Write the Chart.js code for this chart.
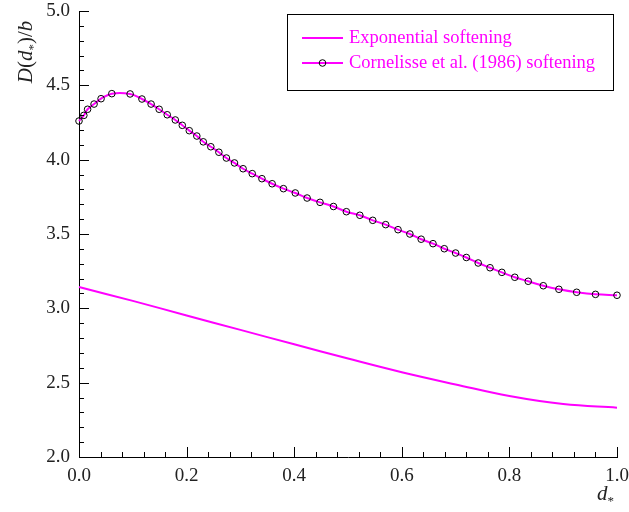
<!DOCTYPE html>
<html>
<head>
<meta charset="utf-8">
<script src="https://cdn.jsdelivr.net/npm/chart.js@4"></script>
<style>
  body { margin: 0; background: #fff; }
</style>
</head>
<body>
<canvas id="dChart" width="629" height="512"></canvas>
<script>
// Cornelisse et al. (1986) softening, marker positions
const xCorn = [0.000, 0.009, 0.016, 0.028, 0.041, 0.061, 0.095, 0.117, 0.134, 0.149,
               0.164, 0.179, 0.192, 0.205, 0.219, 0.231, 0.245, 0.260, 0.274, 0.289,
               0.305, 0.322, 0.340, 0.359, 0.380, 0.402, 0.424, 0.448, 0.473, 0.497,
               0.522, 0.546, 0.570, 0.593, 0.615, 0.636, 0.658, 0.679, 0.700, 0.720,
               0.742, 0.764, 0.786, 0.810, 0.835, 0.863, 0.892, 0.925, 0.960, 1.000]
const yCorn = [4.260, 4.298, 4.339, 4.374, 4.410, 4.444, 4.442, 4.408, 4.374, 4.339,
               4.302, 4.267, 4.231, 4.195, 4.159, 4.120, 4.087, 4.050, 4.011, 3.978,
               3.939, 3.906, 3.872, 3.838, 3.805, 3.776, 3.742, 3.713, 3.685, 3.650,
               3.626, 3.592, 3.563, 3.529, 3.500, 3.465, 3.435, 3.401, 3.372, 3.342,
               3.305, 3.273, 3.242, 3.209, 3.182, 3.152, 3.128, 3.108, 3.094, 3.088]

// Exponential softening
const xExp = [0.0, 0.1, 0.2, 0.3, 0.4, 0.5, 0.6, 0.7, 0.8, 0.9, 1.0]
const yExp = [3.143, 3.05, 2.952, 2.855, 2.758, 2.662, 2.57, 2.488, 2.41, 2.356, 2.332]

const seriesNames = ['Exponential softening', 'Cornelisse et al. (1986) softening']
const xTicks = [0.0, 0.2, 0.4, 0.6, 0.8, 1.0]
const yTicks = [2.0, 2.5, 3.0, 3.5, 4.0, 4.5, 5.0]

const MAGENTA = '#ff00ff'
const SERIF = '"Liberation Serif", "DejaVu Serif", serif'

function toPoints(xs, ys) {
  return xs.map((x, i) => ({ x: x, y: ys[i] }))
}

// drop the extra room chart.js keeps for the end labels
function noPad(s) {
  s.paddingTop = 0
  s.paddingBottom = 0
  s.paddingLeft = 0
  s.paddingRight = 0
}

// minor/major ticks drawn inward, like the original
const tickMarks = {
  id: 'tickMarks',
  afterDatasetsDraw(chart) {
    const c = chart.ctx
    const xs = chart.scales.x, ys = chart.scales.y
    const left = chart.chartArea.left, bottom = chart.chartArea.bottom
    c.save()
    c.strokeStyle = '#000'
    c.lineWidth = 1
    c.beginPath()
    for (let i = 0; i <= 30; i++) {
      const v = 2 + i * 0.1
      const py = Math.round(ys.getPixelForValue(v)) + 0.5
      const len = (i % 5 === 0) ? 10 : 5
      c.moveTo(left, py)
      c.lineTo(left + len, py)
    }
    for (let i = 0; i <= 25; i++) {
      const v = i * 0.04
      const px = Math.round(xs.getPixelForValue(v)) + 0.5
      const len = (i % 5 === 0) ? 10 : 5
      c.moveTo(px, bottom)
      c.lineTo(px, bottom - len)
    }
    c.stroke()
    c.restore()
  }
}

// axis titles with the subscript star
function drawPieces(c, pieces, x, y) {
  let cx = x
  pieces.forEach(p => {
    c.font = p.font
    c.fillText(p.t, cx, y + (p.dy || 0))
    cx += c.measureText(p.t).width
  })
  return cx - x
}

function measurePieces(c, pieces) {
  let w = 0
  pieces.forEach(p => { c.font = p.font; w += c.measureText(p.t).width })
  return w
}

const axisTitles = {
  id: 'axisTitles',
  afterDraw(chart) {
    const c = chart.ctx
    c.save()
    c.fillStyle = '#222'
    c.textBaseline = 'alphabetic'
    const it = 'italic 21px ' + SERIF, rm = '21px ' + SERIF, sm = '13px ' + SERIF
    const yTitle = [
      { t: 'D', font: it }, { t: '(', font: rm }, { t: 'd', font: it },
      { t: '*', font: sm, dy: 5 }, { t: ')/', font: rm }, { t: 'b', font: it }
    ]
    const w = measurePieces(c, yTitle)
    c.translate(32, 52)
    c.rotate(-Math.PI / 2)
    drawPieces(c, yTitle, -w / 2, 0)
    c.restore()

    c.save()
    c.fillStyle = '#222'
    const xTitle = [{ t: 'd', font: it }, { t: '*', font: sm, dy: 5 }]
    drawPieces(c, xTitle, 597, 500)
    c.restore()
  }
}

// boxed legend in the upper right corner
const boxLegend = {
  id: 'boxLegend',
  afterDraw(chart) {
    const c = chart.ctx
    const ds = chart.data.datasets
    c.save()
    c.fillStyle = '#fff'
    c.fillRect(287.5, 14.5, 326, 76)
    c.strokeStyle = '#000'
    c.lineWidth = 1
    c.strokeRect(287.5, 14.5, 326, 76)
    const rows = [38, 63]
    ds.forEach((d, i) => {
      const y = rows[i]
      c.strokeStyle = d.borderColor
      c.lineWidth = 2
      c.beginPath()
      c.moveTo(302, y)
      c.lineTo(343, y)
      c.stroke()
      if (d.pointRadius > 0) {
        c.strokeStyle = '#000'
        c.lineWidth = 1
        c.beginPath()
        c.arc(322.5, y, 3.3, 0, Math.PI * 2)
        c.stroke()
      }
      c.fillStyle = d.borderColor
      c.font = '18.5px ' + SERIF
      c.textBaseline = 'middle'
      c.fillText(d.label, 349, y)
    })
    c.restore()
  }
}

const ctx = document.getElementById('dChart').getContext('2d')

const myChart = new Chart(ctx, {
  type: 'line',
  data: {
    datasets: [{
      label: seriesNames[0],
      data: toPoints(xExp, yExp),
      borderColor: MAGENTA,
      borderWidth: 2,
      pointRadius: 0,
      tension: 0.4,
      clip: false
    }, {
      label: seriesNames[1],
      data: toPoints(xCorn, yCorn),
      borderColor: MAGENTA,
      borderWidth: 2,
      pointRadius: 3.3,
      pointBorderColor: '#000',
      pointBorderWidth: 1,
      pointBackgroundColor: 'rgba(0,0,0,0)',
      tension: 0.4,
      clip: false
    }]
  },
  options: {
    responsive: false,
    animation: false,
    devicePixelRatio: 1,
    layout: { padding: { top: 11, right: 12, left: 0, bottom: 0 } },
    plugins: {
      legend: { display: false },
      tooltip: { enabled: false }
    },
    scales: {
      x: {
        type: 'linear',
        min: 0, max: 1,
        grid: { display: false, drawTicks: false },
        border: { display: true, color: '#000', width: 1 },
        afterBuildTicks: s => { s.ticks = xTicks.map(v => ({ value: v })) },
        afterFit: s => { s.height = 55; noPad(s) },
        ticks: {
          padding: 8,
          color: '#222',
          font: { family: SERIF, size: 19 },
          callback: v => v.toFixed(1)
        }
      },
      y: {
        min: 2, max: 5,
        grid: { display: false, drawTicks: false },
        border: { display: true, color: '#000', width: 1 },
        afterBuildTicks: s => { s.ticks = yTicks.map(v => ({ value: v })) },
        afterFit: s => { s.width = 79; noPad(s) },
        ticks: {
          padding: 9,
          color: '#222',
          font: { family: SERIF, size: 19 },
          callback: v => v.toFixed(1)
        }
      }
    }
  },
  plugins: [tickMarks, axisTitles, boxLegend]
})
</script>
</body>
</html>
